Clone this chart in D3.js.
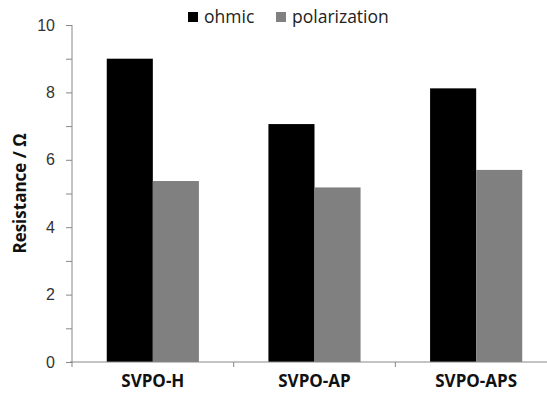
<!DOCTYPE html>
<html>
<head>
<meta charset="utf-8">
<script src="https://cdn.jsdelivr.net/npm/d3@7"></script>
<style>
  body { margin: 0; background: #fff; }
  svg { font-family: "Open Sans", sans-serif; }
</style>
</head>
<body>
<div id="chart"></div>
<script>
// data
const samples = ["SVPO-H", "SVPO-AP", "SVPO-APS"];
const seriesNames = ["ohmic", "polarization"];
const ohmic = [9.0, 7.06, 8.12];
const polarization = [5.37, 5.18, 5.70];
const yTicks = [0, 2, 4, 6, 8, 10];
const yMinor = [0, 1, 2, 3, 4, 5, 6, 7, 8, 9, 10];

const colors = {ohmic: "#000000", polarization: "#808080"};

let margin = {top: 25, right: -10, bottom: 32, left: 72},
    width = 547 - margin.left - margin.right,
    height = 394 - margin.top - margin.bottom;

let svg = d3.select("#chart").append("svg")
    .attr("width", 547)
    .attr("height", 394);

let g = svg.append("g")
    .attr("transform", "translate(" + margin.left + "," + margin.top + ")");

// scales
let x0 = d3.scaleBand().domain(samples).range([0, width]).padding(0);
let barW = x0.bandwidth() * 0.285;
let x1 = d3.scaleBand().domain(seriesNames).range([0, barW * 2]);
let y = d3.scaleLinear().domain([0, 10]).range([height, 0]);

let rows = samples.map((s, i) => ({sample: s, ohmic: ohmic[i], polarization: polarization[i]}));

// bars
let groups = g.selectAll(".grp")
    .data(rows)
    .enter().append("g")
    .attr("class", "grp")
    .attr("transform", d => "translate(" + (x0(d.sample) + x0.bandwidth() / 2 - barW) + ",0)");

groups.selectAll("rect")
    .data(d => seriesNames.map(k => ({key: k, value: d[k]})))
    .enter().append("rect")
    .attr("x", d => x1(d.key))
    .attr("y", d => y(d.value))
    .attr("width", x1.bandwidth())
    .attr("height", d => height - y(d.value))
    .attr("fill", d => colors[d.key]);

// y axis
let yAxis = d3.axisLeft(y).tickValues(yMinor).tickSize(6)
    .tickFormat(d => yTicks.includes(d) ? d : "");
let ya = g.append("g").call(yAxis);
ya.select(".domain").attr("stroke", "#888").attr("d", "M0," + (height + 5) + "V0");
ya.selectAll(".tick line").attr("stroke", "#888");
ya.selectAll(".tick text").attr("font-size", 16).attr("fill", "#333").attr("x", -17);

// x axis (category boundaries as ticks)
let xa = g.append("g").attr("transform", "translate(0," + height + ")");
xa.append("line").attr("x1", -2).attr("x2", width).attr("stroke", "#888");
xa.selectAll(".xt")
    .data(samples.slice(1))
    .enter().append("line")
    .attr("class", "xt")
    .attr("x1", d => x0(d)).attr("x2", d => x0(d))
    .attr("y1", 0).attr("y2", 5)
    .attr("stroke", "#888");
xa.selectAll(".xl")
    .data(samples)
    .enter().append("text")
    .attr("class", "xl")
    .attr("x", d => x0(d) + x0.bandwidth() / 2)
    .attr("y", 25)
    .attr("text-anchor", "middle")
    .attr("font-size", 17)
    .attr("font-weight", "bold")
    .attr("fill", "#111")
    .text(d => d);

// y title
svg.append("text")
    .attr("transform", "translate(26," + (margin.top + height / 2) + ") rotate(-90)")
    .attr("text-anchor", "middle")
    .attr("font-size", 17)
    .attr("font-weight", "bold")
    .attr("fill", "#111")
    .text("Resistance / Ω");

// legend
let legendX = [188, 276];
let legend = svg.selectAll(".leg")
    .data(seriesNames)
    .enter().append("g")
    .attr("class", "leg")
    .attr("transform", (d, i) => "translate(" + legendX[i] + ",12)");
legend.append("rect").attr("width", 10).attr("height", 10).attr("fill", d => colors[d]);
legend.append("text")
    .attr("x", 16).attr("y", 11)
    .attr("font-size", 17.5)
    .attr("fill", "#222")
    .text(d => d);
</script>
</body>
</html>
